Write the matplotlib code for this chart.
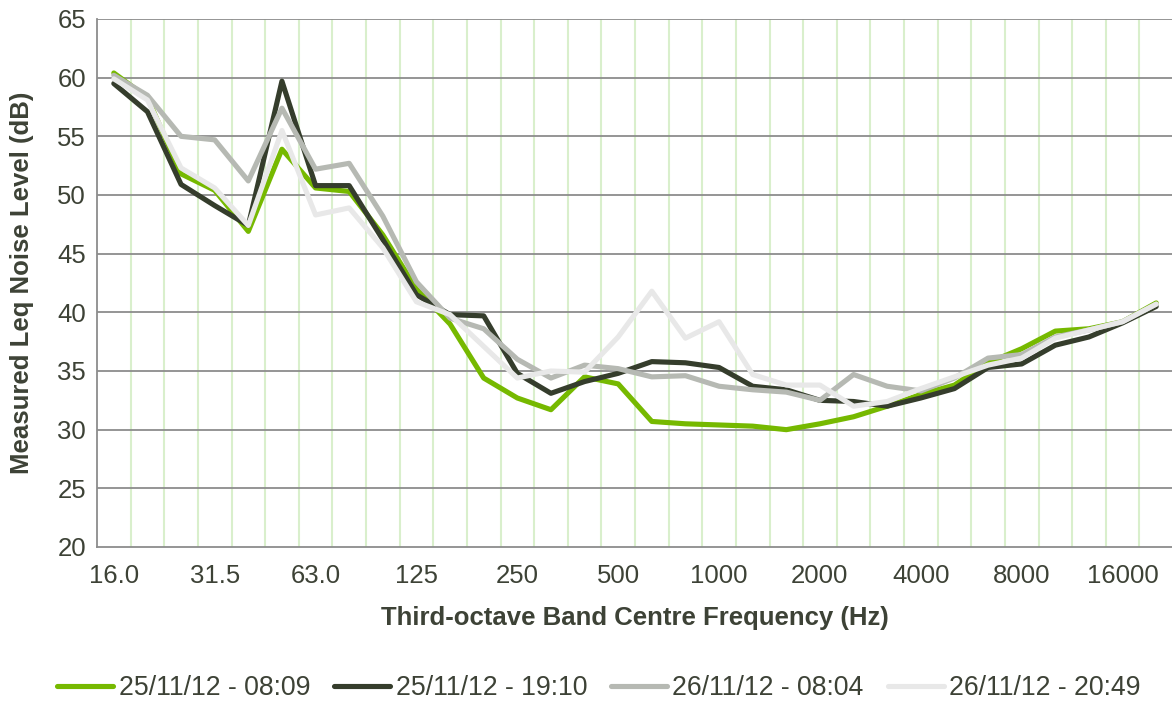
import matplotlib
matplotlib.use("Agg")
import matplotlib.pyplot as plt
import numpy as np

plt.rcParams.update(
    {
        "font.family": ["Liberation Sans", "DejaVu Sans"],
        "font.size": 18.5,
    }
)

# third-octave band centres (Hz) and the labels shown on the axis
bands = [16, 20, 25, 31.5, 40, 50, 63, 80, 100, 125, 160, 200, 250, 315, 400,
         500, 630, 800, 1000, 1250, 1600, 2000, 2500, 3150, 4000, 5000, 6300,
         8000, 10000, 12500, 16000, 20000]
tick_labels = {0: "16.0", 3: "31.5", 6: "63.0", 9: "125", 12: "250", 15: "500",
               18: "1000", 21: "2000", 24: "4000", 27: "8000", 30: "16000"}

# measured Leq (dB) per band
leq_25_0809 = [60.4, 58.3, 51.8, 50.4, 46.9, 53.9, 50.6, 50.3, 46.6, 42.0,
               39.0, 34.4, 32.7, 31.7, 34.5, 33.9, 30.7, 30.5, 30.4, 30.3,
               30.0, 30.5, 31.1, 32.0, 33.0, 33.8, 35.7, 36.9, 38.4, 38.6,
               39.2, 40.8]
leq_25_1910 = [59.5, 57.1, 50.9, 49.1, 47.4, 59.7, 50.8, 50.8, 46.2, 41.5,
               39.8, 39.7, 34.8, 33.1, 34.1, 34.8, 35.8, 35.7, 35.3, 33.7,
               33.4, 32.5, 32.4, 32.0, 32.7, 33.5, 35.3, 35.6, 37.2, 37.9,
               39.1, 40.5]
leq_26_0804 = [60.2, 58.5, 55.0, 54.7, 51.2, 57.4, 52.2, 52.7, 48.2, 42.6,
               39.5, 38.6, 36.0, 34.4, 35.5, 35.2, 34.5, 34.6, 33.7, 33.4,
               33.2, 32.5, 34.7, 33.7, 33.3, 34.4, 36.1, 36.4, 37.9, 38.5,
               39.2, 40.7]
leq_26_2049 = [59.9, 58.1, 52.3, 50.6, 47.4, 55.5, 48.3, 48.9, 45.5, 40.9,
               39.8, 37.1, 34.4, 35.0, 34.9, 37.9, 41.8, 37.8, 39.2, 34.7,
               33.8, 33.8, 32.0, 32.4, 33.5, 34.5, 35.5, 36.1, 37.8, 38.5,
               39.2, 40.7]

series = [
    ("25/11/12 - 08:09", leq_25_0809, "#76b900"),
    ("25/11/12 - 19:10", leq_25_1910, "#353d2c"),
    ("26/11/12 - 08:04", leq_26_0804, "#b6b9b3"),
    ("26/11/12 - 20:49", leq_26_2049, "#e8e8e8"),
]

text_col = "#3d4236"
grid_col = "#8c8c8c"

fig = plt.figure(figsize=(11.72, 7.04), dpi=100)
ax = fig.add_axes([97 / 1172, 1 - 547 / 704, 1076 / 1172, 528 / 704])

x = np.arange(len(bands))
for label, vals, col in series:
    ax.plot(x, vals, color=col, lw=3.7, label=label,
            solid_capstyle="round", solid_joinstyle="round", zorder=3)

ax.set_xlim(-0.5, len(bands) - 0.5)
ax.set_ylim(20, 65)
ax.set_yticks(np.arange(20, 66, 5))
ax.set_xticks(list(tick_labels.keys()))
ax.set_xticklabels(list(tick_labels.values()))

# category boundaries in light green, value grid in grey
for b in np.arange(0.5, len(bands) - 1, 1.0):
    ax.axvline(b, color="#d9efcc", lw=1.5, zorder=1)
for yv in np.arange(25, 66, 5):
    ax.axhline(yv, color=grid_col, lw=1.3, zorder=2)

for side in ["top", "right"]:
    ax.spines[side].set_visible(False)
for side in ["left", "bottom"]:
    ax.spines[side].set_color(grid_col)
    ax.spines[side].set_linewidth(1.3)

ax.tick_params(axis="both", length=0, colors=text_col, labelsize=18.5)
ax.tick_params(axis="x", pad=12)
ax.tick_params(axis="y", pad=8)

fig.text(635 / 1172, 1 - 618 / 704, "Third-octave Band Centre Frequency (Hz)",
         ha="center", va="center", fontweight="bold", color=text_col, fontsize=18.5)
fig.text(22 / 1172, 1 - 283 / 704, "Measured Leq Noise Level (dB)",
         ha="center", va="center", rotation=90, fontweight="bold",
         color=text_col, fontsize=18.5)

leg = fig.legend(loc="center", bbox_to_anchor=(599 / 1172, 1 - 688 / 704),
                 ncol=4, frameon=False, handlelength=2.1, handletextpad=0.2,
                 columnspacing=0.9, fontsize=19.2)
for t in leg.get_texts():
    t.set_color(text_col)

fig.savefig("out.png", dpi=100)
